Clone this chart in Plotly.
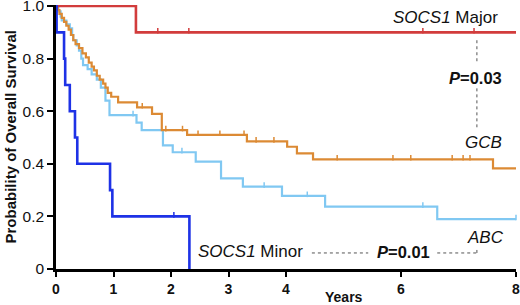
import plotly.graph_objects as go
import numpy as np

# ---- data (years, survival probability after each event) ----
major_t = [0.0, 1.39, 8.0]
major_s = [1.0, 0.90, 0.90]
major_cens = [1.77, 2.31, 6.38, 7.27]

minor_t = [0.0, 0.01, 0.14, 0.16, 0.24, 0.33, 0.37, 0.94, 0.98, 2.32]
minor_s = [1.0, 0.90, 0.80, 0.70, 0.60, 0.50, 0.40, 0.30, 0.20, 0.0]
minor_cens = [2.05]

gcb_t = [0.0, 0.03, 0.06, 0.10, 0.14, 0.18, 0.22, 0.26, 0.30, 0.34, 0.40, 0.46, 0.52,
         0.57, 0.62, 0.66, 0.71, 0.76, 0.82, 0.86, 0.90, 0.96, 1.08, 1.41, 1.67, 1.84,
         2.28, 3.32, 4.02, 4.19, 4.47, 7.60, 8.0]
gcb_s = [1.0, 0.985, 0.97, 0.955, 0.94, 0.925, 0.91, 0.89, 0.87, 0.855, 0.84, 0.82, 0.805,
         0.785, 0.77, 0.755, 0.735, 0.72, 0.705, 0.69, 0.67, 0.655, 0.634, 0.615, 0.59, 0.528,
         0.51, 0.485, 0.465, 0.44, 0.417, 0.383, 0.383]
gcb_cens = [1.50, 1.91, 2.20, 2.47, 2.85, 3.27, 3.48, 3.79, 4.89, 5.86, 6.17, 6.89, 7.08, 7.20]

abc_t = [0.0, 0.04, 0.08, 0.10, 0.18, 0.24, 0.28, 0.30, 0.36, 0.40, 0.44, 0.47, 0.55,
         0.62, 0.71, 0.78, 0.86, 0.93, 1.40, 1.49, 1.86, 2.03, 2.43, 2.87, 3.25, 3.93,
         4.68, 6.63, 8.0]
abc_s = [1.0, 0.98, 0.96, 0.945, 0.93, 0.915, 0.89, 0.87, 0.85, 0.83, 0.80, 0.775, 0.76,
         0.74, 0.72, 0.69, 0.64, 0.585, 0.557, 0.528, 0.47, 0.444, 0.408, 0.345, 0.313, 0.278,
         0.237, 0.19, 0.19]
abc_cens = [1.34, 2.19, 3.62, 4.37, 6.38, 8.0]

x_ticks = [0, 1, 2, 3, 4, 6, 8]
y_ticks = [0, 0.2, 0.4, 0.6, 0.8, 1.0]
y_tick_labels = ["0", "0.2", "0.4", "0.6", "0.8", "1.0"]

RED = "#d23c3c"
DBLUE = "#1e32e6"
ORANGE = "#dc8a34"
LBLUE = "#80c8f2"


def surv_at(ts, ss, t):
    idx = np.searchsorted(np.array(ts), t, side="right") - 1
    return ss[max(idx, 0)]


fig = go.Figure()

for ts, ss, cens, col, w in [
    (abc_t, abc_s, abc_cens, LBLUE, 2.2),
    (gcb_t, gcb_s, gcb_cens, ORANGE, 2.2),
    (major_t, major_s, major_cens, RED, 2.6),
    (minor_t, minor_s, minor_cens, DBLUE, 2.6),
]:
    fig.add_trace(go.Scatter(x=ts, y=ss, mode="lines", line=dict(color=col, width=w, shape="hv"),
                             showlegend=False, hoverinfo="skip"))
    fig.add_trace(go.Scatter(x=cens, y=[surv_at(ts, ss, c) + 0.006 for c in cens], mode="markers",
                             marker=dict(symbol="line-ns", size=4, line=dict(color=col, width=1.5)),
                             showlegend=False, hoverinfo="skip", cliponaxis=False))

FONT = "Liberation Sans, Arial, sans-serif"

fig.update_layout(
    width=520, height=305,
    margin=dict(l=56, r=4, t=5, b=36),
    paper_bgcolor="white", plot_bgcolor="white",
    font=dict(family=FONT, color="#111"),
    xaxis=dict(range=[0, 8], tickvals=x_ticks, ticktext=[f"<b>{v}</b>" for v in x_ticks],
               automargin=False, ticklabeloverflow="allow",
               showgrid=False, zeroline=False, showline=True, linecolor="black", linewidth=2.5,
               ticks="outside", ticklen=5, tickwidth=2, tickcolor="black",
               tickfont=dict(size=14, family=FONT, color="#111")),
    yaxis=dict(range=[0, 1.004], tickvals=y_ticks, ticktext=y_tick_labels,
               automargin=False, ticklabeloverflow="allow",
               showgrid=False, zeroline=False, showline=True, linecolor="black", linewidth=2.5,
               ticks="outside", ticklen=6, tickwidth=2, tickcolor="black",
               tickfont=dict(size=15.5, family=FONT, color="#111")),
)

ann = [
    (6.77, 0.956, "<i>SOCS1</i> Major", 17),
    (7.30, 0.725, "<b><i>P</i>=0.03</b>", 16.5),
    (7.43, 0.482, "<i>GCB</i>", 17),
    (7.47, 0.118, "<i>ABC</i>", 17),
    (3.38, 0.065, "<i>SOCS1</i> Minor", 17),
    (6.05, 0.065, "<b><i>P</i>=0.01</b>", 16.5),
]
for x, y, t, s in ann:
    fig.add_annotation(x=x, y=y, text=t, showarrow=False, xref="x", yref="y",
                       font=dict(size=s, family=FONT, color="#111"))

fig.add_annotation(x=5.0, y=-0.07, xref="x", yref="paper", text="<b>Years</b>", showarrow=False,
                   yanchor="top", font=dict(size=14, family=FONT, color="#111"))
fig.add_annotation(x=-0.0, y=0.5, xref="paper", yref="paper", xshift=-57,
                   text="<b>Probability of Overall Survival</b>", showarrow=False, textangle=-90,
                   font=dict(size=15, family=FONT, color="#111"))

dot = dict(color="#555", width=1, dash="dot")
fig.add_shape(type="line", x0=7.32, x1=7.32, y0=0.87, y1=0.786, xref="x", yref="y", line=dot)
fig.add_shape(type="line", x0=7.32, x1=7.32, y0=0.687, y1=0.539, xref="x", yref="y", line=dot)
fig.add_shape(type="line", x0=4.45, x1=5.43, y0=0.061, y1=0.061, xref="x", yref="y", line=dot)
fig.add_shape(type="line", x0=6.63, x1=7.32, y0=0.061, y1=0.061, xref="x", yref="y", line=dot)
fig.add_shape(type="line", x0=7.32, x1=7.32, y0=0.061, y1=0.082, xref="x", yref="y", line=dot)

fig.write_html("out.html", config={"displayModeBar": False},
               post_script="document.body.style.margin='0px';")
